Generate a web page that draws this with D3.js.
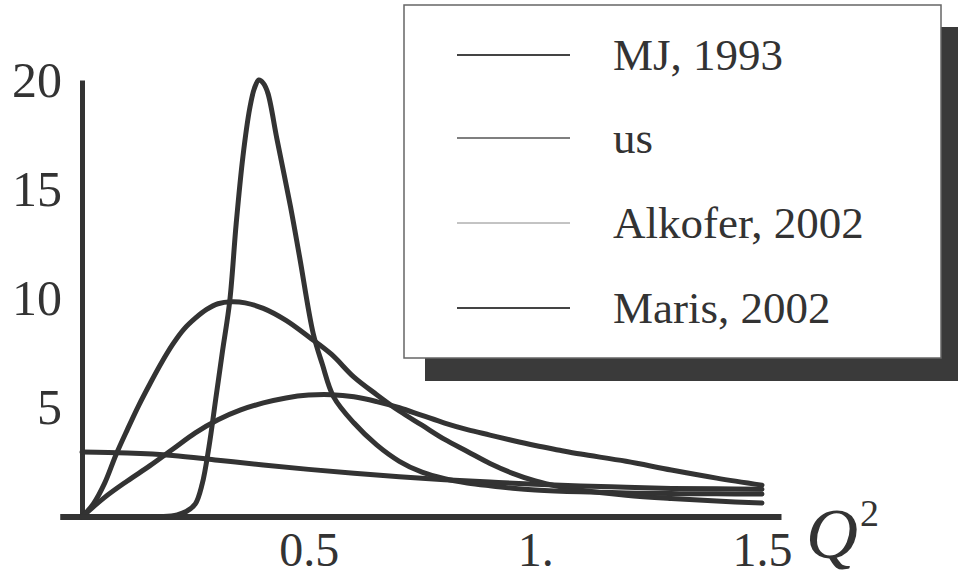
<!DOCTYPE html>
<html>
<head>
<meta charset="utf-8">
<script src="https://cdn.jsdelivr.net/npm/d3@7"></script>
<style>
  body { margin: 0; background: #fff; }
  svg text { font-family: "Liberation Serif", "Times New Roman", serif; fill: #333; }
</style>
</head>
<body>
<div id="chart"></div>
<script>
// legend entries, same order as in the picture
var seriesNames = ["MJ, 1993", "us", "Alkofer, 2002", "Maris, 2002"];

// MJ, 1993 (peak near 10)
var mjQ = [0, .025, .05, .075, .1, .125, .15, .175, .2, .225, .25, .275, .3, .33, .36, .4, .45, .5, .55, .6, .65, .7, .75, .8, .85, .9, .95, 1.0, 1.05, 1.1, 1.2, 1.3, 1.4, 1.5];
var mjV = [0, .6, 1.55, 2.85, 4.0, 5.1, 6.1, 7.05, 7.9, 8.6, 9.1, 9.5, 9.76, 9.85, 9.8, 9.55, 9.0, 8.25, 7.45, 6.4, 5.6, 4.85, 4.2, 3.55, 3.0, 2.45, 2.0, 1.65, 1.4, 1.22, 1.0, .85, .73, .64];

// us (broad one)
var usQ = [0, .05, .1, .15, .2, .25, .3, .35, .4, .45, .5, .55, .6, .65, .7, .75, .8, .85, .9, .95, 1.0, 1.05, 1.1, 1.2, 1.3, 1.4, 1.5];
var usV = [0, .9, 1.65, 2.35, 3.1, 3.85, 4.45, 4.9, 5.22, 5.45, 5.58, 5.6, 5.5, 5.28, 5.0, 4.65, 4.3, 4.0, 3.75, 3.5, 3.27, 3.07, 2.88, 2.55, 2.15, 1.78, 1.46];

// Alkofer, 2002 (sharp peak at 20)
var alQ = [0, .1, .18, .21, .23, .25, .265, .28, .295, .31, .326, .34, .355, .37, .38, .39, .4, .41, .43, .46, .48, .51, .53, .555, .6, .65, .7, .75, .8, .85, .9, .95, 1.0, 1.1, 1.2, 1.3, 1.4, 1.5];
var alV = [0, 0, .02, .1, .25, .6, 1.5, 3.2, 5.4, 7.6, 9.9, 13.4, 16.5, 18.7, 19.6, 20, 19.85, 19.4, 17.3, 14.2, 11.9, 8.4, 7.0, 5.5, 4.3, 3.3, 2.55, 2.05, 1.75, 1.56, 1.43, 1.32, 1.24, 1.15, 1.1, 1.07, 1.06, 1.05];

// Maris, 2002 (flat, starts at 3)
var maQ = [0, .1, .2, .3, .4, .5, .6, .7, .8, .9, 1.0, 1.1, 1.2, 1.3, 1.4, 1.5];
var maV = [2.97, 2.93, 2.82, 2.6, 2.38, 2.18, 2.0, 1.84, 1.71, 1.6, 1.5, 1.42, 1.36, 1.31, 1.29, 1.27];

var xTicks = [0.5, 1, 1.5];
var xTickLabels = ["0.5", "1.", "1.5"];
var yTicks = [5, 10, 15, 20];

var series = [
  {name: seriesNames[0], q: mjQ, v: mjV},
  {name: seriesNames[1], q: usQ, v: usV},
  {name: seriesNames[2], q: alQ, v: alV},
  {name: seriesNames[3], q: maQ, v: maV}
];

var width = 958, height = 588;

var svg = d3.select("#chart")
    .append("svg")
    .attr("width", width)
    .attr("height", height);

var x = d3.scaleLinear().domain([0, 1.5]).range([82, 762]);
var y = d3.scaleLinear().domain([0, 20]).range([517, 80]);

// legend first (shadow + box), the curves never reach it
var legend = svg.append("g");
legend.append("rect")
    .attr("x", 425).attr("y", 27)
    .attr("width", 540).attr("height", 354)
    .attr("fill", "#3a3a3a");
legend.append("rect")
    .attr("x", 404).attr("y", 5)
    .attr("width", 537).attr("height", 353)
    .attr("fill", "#fff")
    .attr("stroke", "#666")
    .attr("stroke-width", 1.5);

var legendStroke = [
  {c: "#444", w: 2},
  {c: "#555", w: 1.5},
  {c: "#888", w: 1},
  {c: "#444", w: 2.2}
];
var legendY = [55, 138, 223, 308];

legend.selectAll(".lline")
    .data(seriesNames)
    .enter()
    .append("line")
    .attr("x1", 457).attr("x2", 570)
    .attr("y1", function(d, i) { return legendY[i]; })
    .attr("y2", function(d, i) { return legendY[i]; })
    .attr("stroke", function(d, i) { return legendStroke[i].c; })
    .attr("stroke-width", function(d, i) { return legendStroke[i].w; });

legend.selectAll(".ltext")
    .data(seriesNames)
    .enter()
    .append("text")
    .attr("x", 613)
    .attr("y", function(d, i) { return legendY[i] + 15; })
    .style("font-size", "45px")
    .text(function(d) { return d; });

// Y axis
var yAxis = svg.append("g")
    .attr("transform", "translate(" + x(0) + ",0)")
    .call(d3.axisLeft(y).tickValues(yTicks).tickSize(0).tickPadding(20));
yAxis.select(".domain")
    .attr("stroke", "#333")
    .attr("stroke-width", 5);
yAxis.selectAll("text")
    .style("font-size", "50px")
    .attr("fill", "#333");

// X axis (line runs a bit past both ends)
var xAxis = svg.append("g")
    .attr("transform", "translate(0," + y(0) + ")")
    .call(d3.axisBottom(x)
        .tickValues(xTicks)
        .tickSize(0)
        .tickPadding(15)
        .tickFormat(function(d, i) { return xTickLabels[i]; }));
xAxis.select(".domain").remove();
xAxis.selectAll("text")
    .style("font-size", "48px")
    .attr("fill", "#333");
xAxis.append("line")
    .attr("x1", x(-0.048)).attr("x2", x(1.543))
    .attr("stroke", "#333")
    .attr("stroke-width", 6);

// Q^2 label
var qLabel = svg.append("text")
    .attr("x", 806)
    .attr("y", 558)
    .style("font-size", "72px")
    .style("font-style", "italic");
qLabel.append("tspan").text("Q");
qLabel.append("tspan")
    .attr("dy", -32)
    .attr("dx", 2)
    .style("font-size", "38px")
    .style("font-style", "normal")
    .text("2");

// curves
var line = d3.line()
    .x(function(d) { return x(d[0]); })
    .y(function(d) { return y(d[1]); })
    .curve(d3.curveCatmullRom.alpha(0.5));

svg.selectAll(".curve")
    .data(series)
    .enter()
    .append("path")
    .attr("class", "curve")
    .attr("fill", "none")
    .attr("stroke", "#333")
    .attr("stroke-width", 5)
    .attr("stroke-linejoin", "round")
    .attr("stroke-linecap", "round")
    .attr("d", function(s) {
        return line(s.q.map(function(q, i) { return [q, s.v[i]]; }));
    });
</script>
</body>
</html>
